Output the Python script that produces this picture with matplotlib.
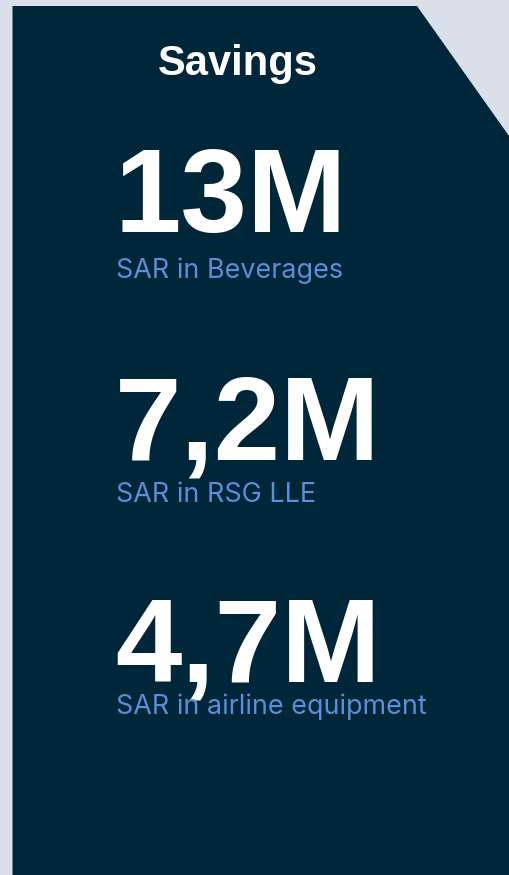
import matplotlib
matplotlib.use("Agg")
import matplotlib.pyplot as plt
from matplotlib.patches import Polygon

# Data
title = "Savings"
values = ["13M", "7,2M", "4,7M"]
labels = ["SAR in Beverages", "SAR in RSG LLE", "SAR in airline equipment"]

BG = "#d9e0e9"
PANEL = "#00263a"
LABEL = "#5b8fd8"

W, H = 509, 875
fig = plt.figure(figsize=(W / 100, H / 100), dpi=100, facecolor=BG)
ax = fig.add_axes([0, 0, 1, 1])
ax.set_xlim(0, W)
ax.set_ylim(H, 0)
ax.axis("off")
ax.set_facecolor(BG)

panel = Polygon([(12.5, 6), (417, 6), (509, 136), (509, H + 5), (12.5, H + 5)],
                closed=True, facecolor=PANEL, edgecolor="none")
ax.add_patch(panel)

ax.text(238, 75, title, color="white", fontsize=30, fontweight="bold",
        family="Liberation Sans", ha="center", va="baseline")

value_baselines = [232, 460, 682]
label_baselines = [278, 502, 714]
for v, lab, yb, yl in zip(values, labels, value_baselines, label_baselines):
    ax.text(115, yb, v, color="white", fontsize=86, fontweight="bold",
            family="Liberation Sans", ha="left", va="baseline")
    ax.text(116, yl, lab, color=LABEL, fontsize=19.4, fontweight="normal",
            family="Inter", ha="left", va="baseline")

fig.savefig("out.png", dpi=100, facecolor=BG)
